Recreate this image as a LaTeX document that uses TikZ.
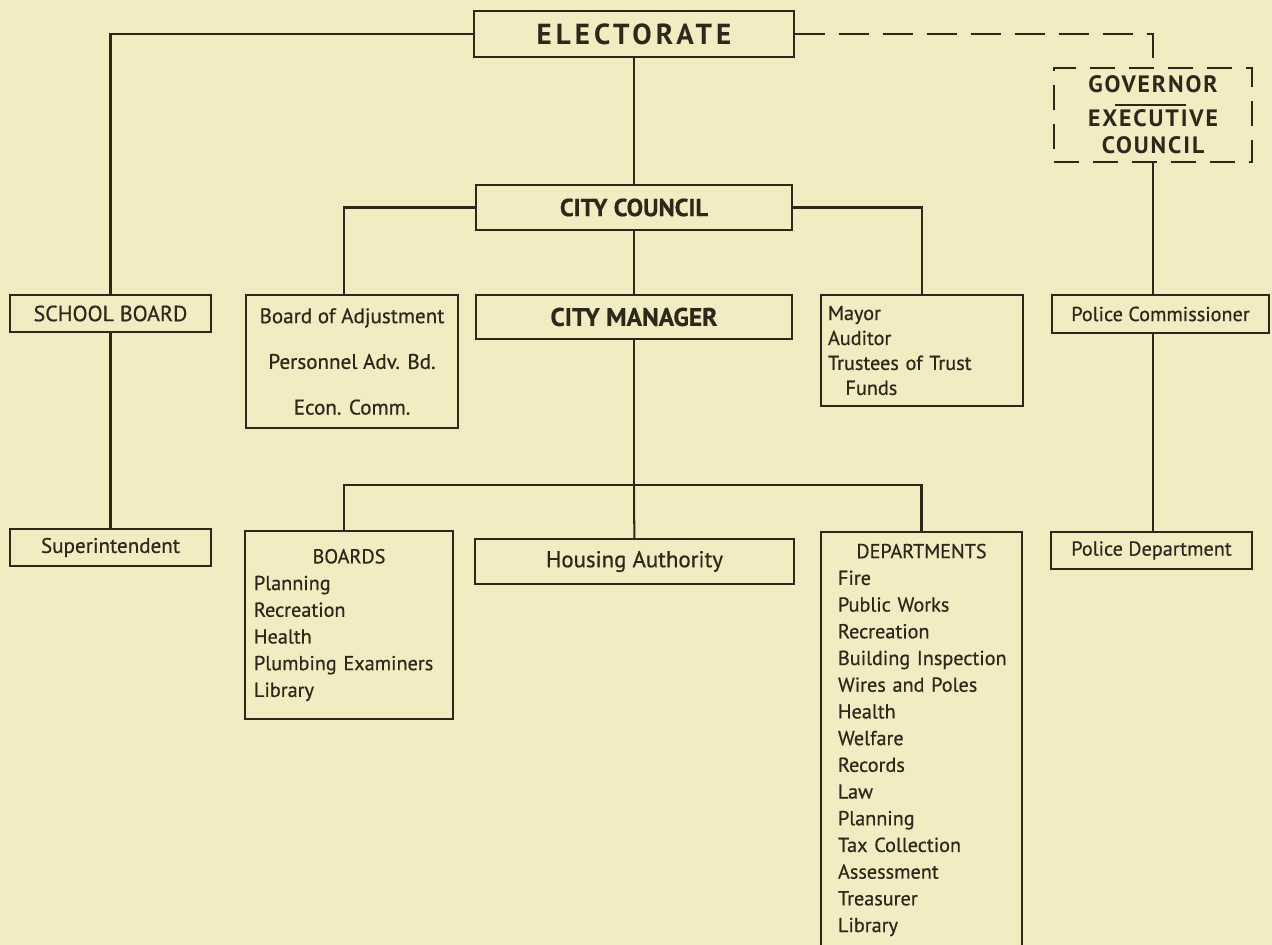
\documentclass[tikz,border=0pt]{standalone}
\usepackage{fontspec}
\setmainfont[FakeBold=0.6]{PT Sans}
\newfontfamily\spacedfont[LetterSpace=14]{PT Sans}
\newfontfamily\govfont[LetterSpace=8]{PT Sans}
\usetikzlibrary{calc}
\definecolor{paper}{RGB}{242,236,194}
\definecolor{ink}{RGB}{46,40,26}
\tikzset{
  unit/.style={draw=ink, line width=1.15pt, text=ink, inner sep=0pt, font=\fontsize{11.5}{14}\selectfont},
  head/.style={unit, font=\fontsize{14}{17}\selectfont\bfseries},
  listbox/.style={unit, align=left, font=\fontsize{11.5}{15.2}\selectfont},
  link/.style={draw=ink, line width=1.15pt},
  dashlink/.style={link, dash pattern=on 0.6cm off 0.28cm},
}

\begin{document}
\begin{tikzpicture}[x=0.02cm, y=-0.02cm]
		%%%%% PAGE %%%%%
		\fill[paper] (0, 0) rectangle (1272, 945);
		\useasboundingbox (0, 0) rectangle (1272, 945);
		
		%%%%% TOP ROW %%%%%
		\node[head, minimum width=6.4cm, minimum height=0.92cm, font=\spacedfont\fontsize{16.5}{19}\selectfont\bfseries] (elect) at (634, 34) {ELECTORATE};
		\node[unit, minimum width=3.96cm, minimum height=1.88cm, dash pattern=on 0.5cm off 0.28cm, align=center, font=\govfont\fontsize{13.5}{15.6}\selectfont\bfseries] (gov) at (1153, 115) {GOVERNOR\\[3.5pt]EXECUTIVE\\COUNCIL};
		\draw[link, line width=0.8pt] ([xshift=-0.76cm, yshift=0.2cm]gov.center) -- ([xshift=0.66cm, yshift=0.2cm]gov.center);
		
		\node[head, minimum width=6.34cm, minimum height=0.9cm] (council) at (634, 207.5) {CITY COUNCIL};
		
		%%%%% SECOND ROW %%%%%
		\node[unit, minimum width=4.02cm, minimum height=0.74cm, font=\fontsize{12.5}{14}\selectfont] (school) at (110.5, 313.5) {SCHOOL BOARD};
		\node[unit, minimum width=4.24cm, minimum height=2.66cm, align=center, font=\fontsize{12}{26}\selectfont] (adjust) at (352, 361.5) {Board of Adjustment\\Personnel Adv. Bd.\\Econ. Comm.};
		\node[head, minimum width=6.34cm, minimum height=0.88cm, font=\fontsize{14.5}{17}\selectfont\bfseries] (manager) at (634, 317) {CITY MANAGER};
		\node[unit, minimum width=4.04cm, minimum height=2.22cm, inner xsep=0.14cm, text width=3.76cm, align=left, font=\fontsize{11.5}{14.2}\selectfont] (mayor) at (922, 350.5) {Mayor\\Auditor\\Trustees of Trust\\\hspace*{0.35cm}Funds};
		\node[unit, minimum width=4.34cm, minimum height=0.76cm] (commr) at (1160.5, 314) {Police Commissioner};
		
		%%%%% THIRD ROW %%%%%
		\coordinate (branch) at (634, 485);
		\node[unit, minimum width=4.02cm, minimum height=0.74cm, font=\fontsize{12}{14}\selectfont] (super) at (110.5, 547.5) {Superintendent};
		\node[listbox, minimum width=4.16cm, minimum height=3.76cm, inner xsep=0.18cm, text width=3.8cm] (boards) at (349, 625) {\makebox[3.8cm]{BOARDS}\\Planning\\Recreation\\Health\\Plumbing Examiners\\Library};
		\node[unit, minimum width=6.38cm, minimum height=0.9cm, font=\fontsize{13}{15}\selectfont] (housing) at (634.5, 561.5) {Housing Authority};
		\node[listbox, minimum width=4.02cm, minimum height=8.32cm, inner xsep=0.34cm, text width=3.34cm] (depts) at (921.5, 740) {\makebox[3.34cm]{DEPARTMENTS}\\Fire\\Public Works\\Recreation\\\mbox{Building Inspection}\\Wires and Poles\\Health\\Welfare\\Records\\Law\\Planning\\Tax Collection\\Assessment\\Treasurer\\Library};
		\node[unit, minimum width=4.02cm, minimum height=0.74cm] (pdept) at (1151.5, 550.5) {Police Department};
		
		%%%%% LINES %%%%%
		\draw[link] (elect.west) -| (school.north);
		\draw[link] (elect) -- (council);
		\draw[dashlink] (elect.east) -| (gov.north);
		\draw[link] (council.west) -| ([xshift=-0.16cm]adjust.north);
		\draw[link] (council.east) -| (mayor.north);
		\draw[link] (council) -- (manager);
		\draw[link] (manager.south) -- (branch);
		\draw[link] (branch) -| ([xshift=-0.1cm]boards.north);
		\draw[link] (branch) -- (housing);
		\draw[link] (branch) -| (depts.north);
		\draw[link] (school) -- (super);
		\draw[link] (gov.south) -- (gov.south |- commr.north);
		\draw[link] (gov.south |- commr.south) -- (gov.south |- pdept.north);
		
	\end{tikzpicture}
\end{document}
